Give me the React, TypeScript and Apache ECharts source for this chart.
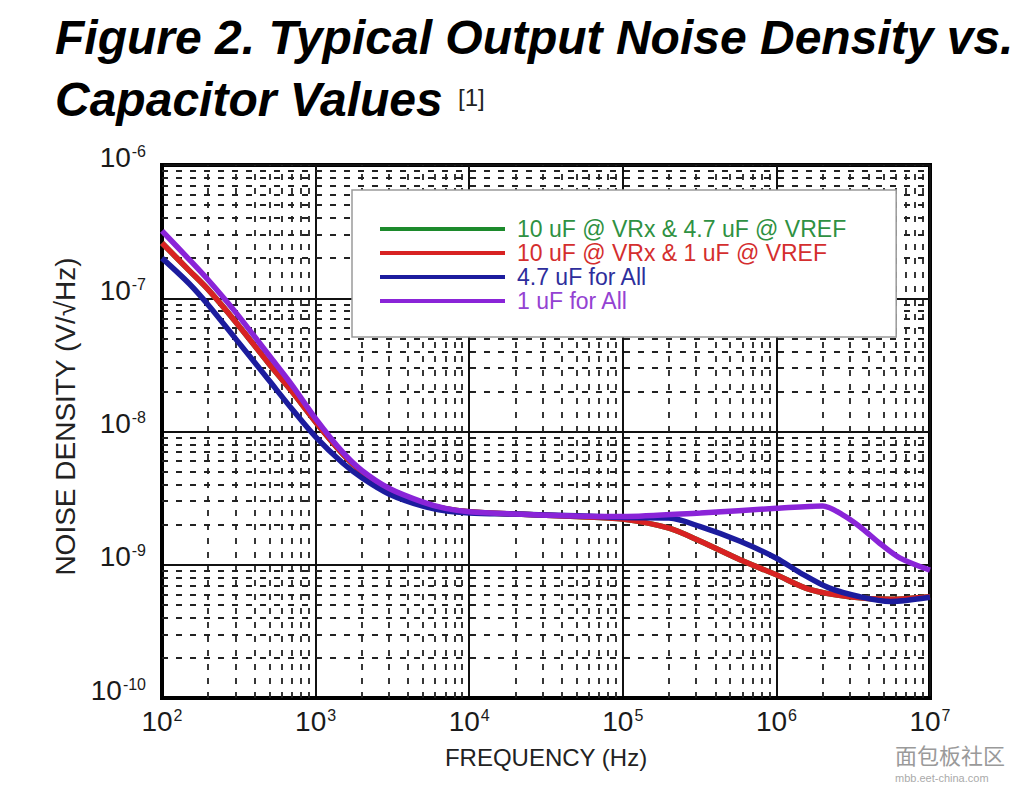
import React, { useEffect, useRef } from "react";
import * as echarts from "echarts";

// ---------- data ----------
const seriesNames = [
  "10 uF @ VRx & 4.7 uF @ VREF",
  "10 uF @ VRx & 1 uF @ VREF",
  "4.7 uF for All",
  "1 uF for All",
];
const lineColors = ["#1c8a2c", "#d82222", "#1c1c9e", "#8a24d8"];
const textColors = ["#2f9142", "#d42e2e", "#2e2e9c", "#9442d2"];

const freqGreen = [100, 150, 200, 300, 500, 700, 1000, 1500, 2000, 3000, 5000, 7000, 1e4, 2e4, 5e4, 1e5, 2e5, 3.2e5, 5.8e5, 1e6, 1.66e6, 3e6, 5.5e6, 1e7];
const valGreen = [2.6e-7, 1.62e-7, 1.16e-7, 6.7e-8, 3.2e-8, 2.0e-8, 1.18e-8, 6.8e-9, 5.0e-9, 3.7e-9, 2.9e-9, 2.63e-9, 2.5e-9, 2.4e-9, 2.3e-9, 2.2e-9, 1.88e-9, 1.5e-9, 1.09e-9, 8.4e-10, 6.5e-10, 5.75e-10, 5.5e-10, 5.75e-10];

const freqRed = [100, 150, 200, 300, 500, 700, 1000, 1500, 2000, 3000, 5000, 7000, 1e4, 2e4, 5e4, 1e5, 2e5, 3.2e5, 5.8e5, 1e6, 1.66e6, 3e6, 5.5e6, 1e7];
const valRed = [2.6e-7, 1.62e-7, 1.16e-7, 6.7e-8, 3.2e-8, 2.0e-8, 1.18e-8, 6.8e-9, 5.0e-9, 3.7e-9, 2.9e-9, 2.63e-9, 2.5e-9, 2.4e-9, 2.3e-9, 2.2e-9, 1.88e-9, 1.5e-9, 1.09e-9, 8.4e-10, 6.5e-10, 5.75e-10, 5.5e-10, 5.75e-10];

const freqBlue = [100, 150, 200, 300, 500, 700, 1000, 1500, 2000, 3000, 5000, 7000, 1e4, 2e4, 5e4, 1e5, 2e5, 3.2e5, 5.8e5, 1e6, 1.43e6, 2.2e6, 3.5e6, 5.5e6, 1e7];
const valBlue = [2.0e-7, 1.29e-7, 8.9e-8, 5.0e-8, 2.4e-8, 1.48e-8, 9.1e-9, 5.8e-9, 4.5e-9, 3.4e-9, 2.75e-9, 2.54e-9, 2.45e-9, 2.4e-9, 2.33e-9, 2.26e-9, 2.24e-9, 1.93e-9, 1.5e-9, 1.12e-9, 8.7e-10, 6.7e-10, 5.75e-10, 5.3e-10, 5.7e-10];

const freqPurple = [100, 150, 200, 300, 500, 700, 1000, 1500, 2000, 3000, 5000, 7000, 1e4, 2e4, 5e4, 1e5, 3.2e5, 1e6, 2e6, 2.7e6, 3.5e6, 4.7e6, 6.4e6, 1e7];
const valPurple = [3.2e-7, 1.96e-7, 1.37e-7, 7.9e-8, 3.7e-8, 2.24e-8, 1.25e-8, 7.0e-9, 5.1e-9, 3.75e-9, 2.95e-9, 2.65e-9, 2.5e-9, 2.4e-9, 2.32e-9, 2.3e-9, 2.45e-9, 2.65e-9, 2.76e-9, 2.37e-9, 1.93e-9, 1.45e-9, 1.12e-9, 9.1e-10];

const xMin = 1e2;
const xMax = 1e7;
const yMin = 1e-10;
const yMax = 1e-6;
const xDecades = [1e2, 1e3, 1e4, 1e5, 1e6];
const yDecades = [1e-10, 1e-9, 1e-8, 1e-7];
const minorMultipliers = [2, 3, 4, 5, 6, 7, 8, 9];

const titleLine1 = "Figure 2. Typical Output Noise Density vs.";
const titleLine2 = "Capacitor Values";
const titleRef = "[1]";
const xName = "FREQUENCY (Hz)";
const yName = "NOISE DENSITY (V/\u221AHz)";
const watermark = "面包板社区";
const watermarkUrl = "mbb.eet-china.com";

const FONT = "Liberation Sans";

function pairs(xs: number[], ys: number[]) {
  return xs.map((x, i) => [x, ys[i]]);
}

const labelRich = {
  b: { fontSize: 28, fontFamily: FONT, color: "#1a1a1a", verticalAlign: "middle" },
  s: { fontSize: 16, fontFamily: FONT, color: "#1a1a1a", verticalAlign: "top", padding: [0, 0, 0, 1] },
};

export default function App() {
  const ref = useRef<HTMLDivElement>(null);
  useEffect(() => {
    document.body.style.margin = "0";
    const chart = echarts.init(ref.current!, null, { renderer: "svg" });
    const dataSets = [
      pairs(freqGreen, valGreen),
      pairs(freqRed, valRed),
      pairs(freqBlue, valBlue),
      pairs(freqPurple, valPurple),
    ];
    const minorX = xDecades.flatMap((d) =>
      minorMultipliers.map((m) => [{ coord: [d * m, yMin] }, { coord: [d * m, yMax] }])
    );
    const minorY = yDecades.flatMap((d) =>
      minorMultipliers.map((m) => [{ coord: [xMin, d * m] }, { coord: [xMax, d * m] }])
    );
    const option: any = {
      animation: false,
      backgroundColor: "#ffffff",
      textStyle: { fontFamily: FONT },
      graphic: [
        {
          type: "text",
          left: 55,
          top: 13,
          style: { text: titleLine1, font: `italic bold 48px "${FONT}"`, fill: "#000" },
        },
        {
          type: "text",
          left: 55,
          top: 75,
          style: { text: titleLine2, font: `italic bold 48px "${FONT}"`, fill: "#000" },
        },
        {
          type: "text",
          left: 458,
          top: 85,
          style: { text: titleRef, font: `24px "${FONT}"`, fill: "#222" },
        },
        {
          type: "text",
          left: 895,
          top: 743,
          style: { text: watermark, font: `22px "Noto Sans CJK SC"`, fill: "#9a9a9a" },
        },
        {
          type: "text",
          left: 895,
          top: 772,
          style: { text: watermarkUrl, font: `11px "${FONT}"`, fill: "#aaaaaa" },
        },
      ],
      grid: {
        left: 162,
        right: 98,
        top: 165,
        bottom: 92,
        show: true,
        borderColor: "#000",
        borderWidth: 4,
        backgroundColor: "#fff",
      },
      legend: {
        orient: "vertical",
        left: 352,
        top: 190,
        z: 20,
        padding: [27, 50, 24, 28],
        backgroundColor: "#ffffff",
        borderColor: "#9a9a9a",
        borderWidth: 1.5,
        icon: "rect",
        itemWidth: 125,
        itemHeight: 4,
        itemGap: 0,
        selectedMode: false,
        textStyle: { fontSize: 23, fontFamily: FONT, lineHeight: 24, padding: [0, 0, 0, 7] },
        data: seriesNames.map((n, i) => ({ name: n, textStyle: { color: textColors[i] } })),
      },
      xAxis: {
        type: "log",
        logBase: 10,
        min: xMin,
        max: xMax,
        name: xName,
        nameLocation: "middle",
        nameGap: 47,
        nameTextStyle: { fontSize: 24, fontFamily: FONT, color: "#222" },
        axisLine: { show: true, lineStyle: { color: "#000", width: 4 } },
        axisTick: { show: false },
        splitLine: { show: true, lineStyle: { color: "#111", width: 2 } },
        axisLabel: {
          margin: 9,
          formatter: (v: number) => `{b|10}{s|${Math.round(Math.log10(v))}}`,
          rich: labelRich,
        },
      },
      yAxis: {
        type: "log",
        logBase: 10,
        min: yMin,
        max: yMax,
        name: yName,
        nameLocation: "middle",
        nameGap: 70,
        nameTextStyle: { fontSize: 28, fontFamily: FONT, color: "#222", padding: [0, 0, 0, 30] },
        axisLine: { show: true, lineStyle: { color: "#000", width: 4 } },
        axisTick: { show: false },
        splitLine: { show: true, lineStyle: { color: "#111", width: 2 } },
        axisLabel: {
          margin: 16,
          padding: [0, 0, 16, 0],
          formatter: (v: number) => `{b|10}{s|${Math.round(Math.log10(v))}}`,
          rich: labelRich,
        },
      },
      series: [
        {
          name: "minor-grid",
          type: "line",
          data: [],
          z: 1,
          silent: true,
          markLine: {
            silent: true,
            z: 1,
            symbol: ["none", "none"],
            label: { show: false },
            lineStyle: { type: [6, 8], color: "#222", width: 1.8 },
            emphasis: { disabled: true },
            data: [...minorX, ...minorY],
          },
        },
        ...seriesNames.map((n, i) => ({
          name: n,
          type: "line",
          data: dataSets[i],
          z: 3 + i,
          showSymbol: false,
          symbol: "none",
          smooth: 0.3,
          lineStyle: { color: lineColors[i], width: 5.5 },
          itemStyle: { color: lineColors[i] },
          emphasis: { disabled: true },
        })),
      ],
    };
    chart.setOption(option);
    return () => chart.dispose();
  }, []);
  return (
    <div
      ref={ref}
      style={{ position: "absolute", left: 0, top: 0, width: 1028, height: 790, background: "#fff" }}
    />
  );
}
